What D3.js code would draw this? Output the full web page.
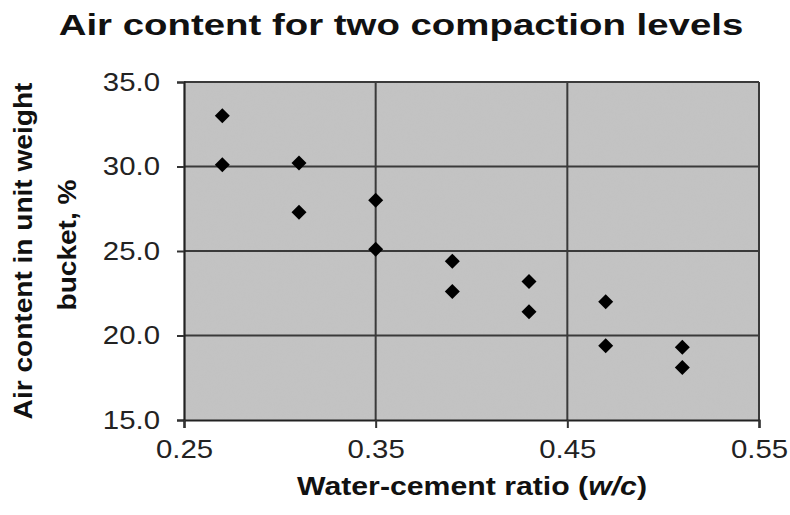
<!DOCTYPE html>
<html>
<head>
<meta charset="utf-8">
<script src="https://cdn.jsdelivr.net/npm/d3@7"></script>
<style>
  html, body { margin: 0; padding: 0; background: #fff; }
  svg { display: block; font-family: "Liberation Sans", Arial, sans-serif; }
</style>
</head>
<body>
<svg id="chart" width="790" height="515"></svg>
<script>
// Water-cement ratio for each specimen pair and the measured air content (%)
const wcRatio    = [0.27, 0.27, 0.31, 0.31, 0.35, 0.35, 0.39, 0.39, 0.43, 0.43, 0.47, 0.47, 0.51, 0.51];
const airContent = [33.0, 30.1, 30.2, 27.3, 28.0, 25.1, 24.4, 22.6, 23.2, 21.4, 22.0, 19.4, 19.3, 18.1];

const xTicks = [0.25, 0.35, 0.45, 0.55];
const yTicks = [15, 20, 25, 30, 35];

const svg = d3.select("#chart");
const plot = { left: 184, right: 759, top: 82, bottom: 420 };

const x = d3.scaleLinear().domain([0.25, 0.55]).range([plot.left, plot.right]);
const y = d3.scaleLinear().domain([15, 35]).range([plot.bottom, plot.top]);

// text in this chart uses a slightly widened face
const WIDE = 1.13;

// grainy grey plot background
const defs = svg.append("defs");
const f = defs.append("filter").attr("id", "grain").attr("x", 0).attr("y", 0).attr("width", 1).attr("height", 1);
f.append("feTurbulence").attr("type", "fractalNoise").attr("baseFrequency", 0.9).attr("numOctaves", 1).attr("seed", 3).attr("result", "noise");
f.append("feColorMatrix").attr("in", "noise").attr("type", "matrix")
  .attr("values", "0 0 0 0 0.55  0 0 0 0 0.55  0 0 0 0 0.55  0 0 0 0.35 -0.05").attr("result", "speck");
f.append("feComposite").attr("in", "speck").attr("in2", "SourceGraphic").attr("operator", "in").attr("result", "speckIn");
f.append("feMerge").selectAll("feMergeNode").data(["SourceGraphic", "speckIn"]).join("feMergeNode").attr("in", d => d);

svg.append("rect")
  .attr("x", plot.left).attr("y", plot.top)
  .attr("width", plot.right - plot.left).attr("height", plot.bottom - plot.top)
  .attr("fill", "#c3c3c3")
  .attr("filter", "url(#grain)");

// gridlines
svg.append("g").selectAll("line").data(yTicks.filter(t => t > 15)).join("line")
  .attr("x1", plot.left).attr("x2", plot.right)
  .attr("y1", d => y(d)).attr("y2", d => y(d))
  .attr("stroke", "#3a3a3a").attr("stroke-width", 2);
svg.append("g").selectAll("line").data(xTicks.filter(t => t > 0.25)).join("line")
  .attr("y1", plot.top).attr("y2", plot.bottom)
  .attr("x1", d => x(d)).attr("x2", d => x(d))
  .attr("stroke", "#3a3a3a").attr("stroke-width", 2);

// axes
const yAxis = svg.append("g").attr("transform", `translate(${plot.left},0)`)
  .call(d3.axisLeft(y).tickValues(yTicks).tickFormat(d3.format(".1f")).tickSize(7).tickPadding(17));
const xAxis = svg.append("g").attr("transform", `translate(0,${plot.bottom})`)
  .call(d3.axisBottom(x).tickValues(xTicks).tickFormat(d3.format(".2f")).tickSize(8).tickPadding(12));
[yAxis, xAxis].forEach(a => {
  a.select(".domain").attr("stroke", "#222").attr("stroke-width", 2.2);
  a.selectAll(".tick line").attr("stroke", "#333").attr("stroke-width", 2);
  a.selectAll(".tick text").attr("fill", "#222").attr("font-size", 26)
    .attr("font-family", "'Liberation Sans', Arial, sans-serif")
    .each(function () {
      const t = d3.select(this);
      const tx = +t.attr("x") || 0;
      t.attr("x", 0).attr("transform", `translate(${tx},0) scale(${WIDE},1)`);
    });
});

// diamond markers
svg.append("g").selectAll("path").data(wcRatio.map((w, i) => [w, airContent[i]])).join("path")
  .attr("transform", d => `translate(${x(d[0])},${y(d[1])})`)
  .attr("d", "M0,-7.5 L7.5,0 L0,7.5 L-7.5,0 Z")
  .attr("fill", "#000");

// title
svg.append("text")
  .attr("transform", "translate(401,35) scale(1.28,1)")
  .attr("text-anchor", "middle")
  .attr("font-size", 30).attr("font-weight", "bold").attr("fill", "#111")
  .text("Air content for two compaction levels");

// y-axis title (two lines)
svg.append("text")
  .attr("transform", "translate(32,251) rotate(-90) scale(1.08,1)")
  .attr("text-anchor", "middle")
  .attr("font-size", 26).attr("font-weight", "bold").attr("fill", "#111")
  .text("Air content in unit weight");
svg.append("text")
  .attr("transform", "translate(76,245) rotate(-90) scale(1.08,1)")
  .attr("text-anchor", "middle")
  .attr("font-size", 26).attr("font-weight", "bold").attr("fill", "#111")
  .text("bucket, %");

// x-axis title
const xt = svg.append("text")
  .attr("transform", "translate(472,495) scale(1.21,1)")
  .attr("text-anchor", "middle")
  .attr("font-size", 25).attr("font-weight", "bold").attr("fill", "#111");
xt.append("tspan").text("Water-cement ratio (");
xt.append("tspan").attr("font-style", "italic").text("w/c");
xt.append("tspan").text(")");
</script>
</body>
</html>
